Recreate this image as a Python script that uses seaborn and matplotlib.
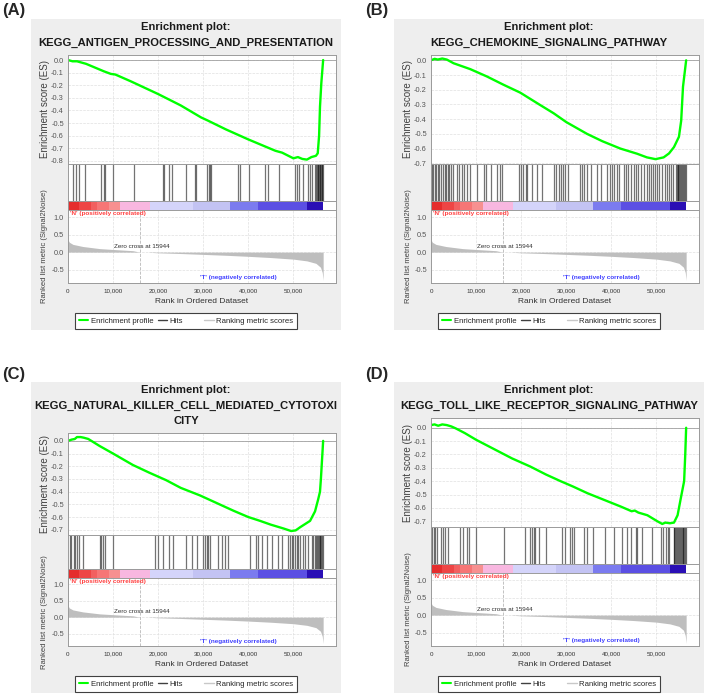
import matplotlib
matplotlib.use('Agg')
import matplotlib.pyplot as plt
import seaborn as sns
from matplotlib.lines import Line2D
from matplotlib.patches import Rectangle

sns.set_style('white')
plt.rcParams['font.family'] = ['Liberation Sans', 'DejaVu Sans']
plt.rcParams['axes.unicode_minus'] = False

FIG_W, FIG_H = 709, 696
X_MAX = 59450
ZERO_CROSS = 15944

# Ranked list metric (same ranked list in every panel)
metric_rank = [0, 300, 1100, 3300, 7000, 10000, 14400, 15944, 16000, 17800, 18000, 20000,
               25000, 30000, 35000, 40000, 45000, 50000, 53000, 55000, 56000, 56400, 56600]
metric_value = [0.35, 0.28, 0.22, 0.16, 0.10, 0.075, 0.04, 0.0, 0.0, 0.0, -0.005, -0.02,
                -0.04, -0.065, -0.09, -0.12, -0.155, -0.20, -0.25, -0.32, -0.43, -0.58, -0.80]

# Colour bar under the hits
cb_edges = [0, 2500, 5000, 6400, 9000, 11500, 18200, 27800, 36000, 42200, 53000, 56600]
cb_colors = ['#e52d2d', '#ee4545', '#f26060', '#f67676', '#f79090', '#f8b7e0',
             '#d4d4fa', '#c3c3f3', '#7b7bef', '#5b4fe3', '#2a0fb5']

x_ticks = [0, 10000, 20000, 30000, 40000, 50000]
x_tick_labels = ['0', '10,000', '20,000', '30,000', '40,000', '50,000']

# (A) antigen processing
es_rank_a = [0, 1000, 2000, 4000, 6000, 8000, 9500, 10500, 14000, 20000, 25000, 29500, 31000,
             35000, 40000, 44000, 46000, 47500, 50000, 51000, 52000, 53000, 54000, 55000,
             55400, 55700, 55900, 56200, 56600]
es_a = [0.0, -0.01, -0.01, -0.03, -0.06, -0.09, -0.11, -0.115, -0.17, -0.27, -0.36, -0.455, -0.48,
        -0.55, -0.63, -0.69, -0.72, -0.735, -0.78, -0.77, -0.785, -0.79, -0.77, -0.76,
        -0.74, -0.60, -0.37, -0.18, 0.0]
hits_a = [1100, 1700, 2400, 3800, 7400, 7900, 8200, 9900, 14700, 21000, 21300, 22500, 23000,
          26100, 28200, 28500, 30800, 31200, 31500, 31700, 37600, 38200, 40200, 43600, 44300,
          46800, 50300, 50700, 51300, 52100, 53300, 53700, 54100, 54900, 55050, 55200, 55350,
          55500, 55650, 55800, 55950, 56100, 56250, 56400, 56550]

# (B) chemokine signalling
es_rank_b = [0, 800, 1500, 2500, 3500, 5000, 8700, 12400, 16000, 19800, 24000, 27200, 30000,
             34600, 38000, 42000, 45700, 47900, 49800, 51600, 52800, 53900, 55000, 55500,
             55900, 56600]
es_b = [0.0, 0.01, 0.005, 0.012, 0.005, -0.02, -0.06, -0.11, -0.165, -0.22, -0.30, -0.36, -0.42,
        -0.50, -0.55, -0.60, -0.635, -0.66, -0.672, -0.66, -0.633, -0.59, -0.52, -0.41,
        -0.18, 0.0]
hits_b = [200, 500, 800, 1100, 1500, 1800, 2200, 2600, 3000, 3300, 3700, 4100, 4500, 4900,
          5700, 6300, 6800, 7400, 7900, 8600, 10200, 11700, 12300, 13200, 14700, 15200, 15800,
          19600, 20000, 20500, 21000, 21400, 22500, 23600, 24700, 27300, 27800, 28400, 28800,
          29300, 29800, 30300, 33000, 33500, 34000, 34700, 35400, 36900, 37600, 39100, 39600,
          40200, 40600, 41200, 41700, 42800, 43200, 43700, 44300, 45000, 45500, 46000, 46600,
          47300, 48000, 48400, 48900, 49300, 49800, 50200, 50600, 51300, 51800, 52300, 52800,
          53200, 53600, 54300, 54500, 54700, 54900, 55100, 55300, 55500, 55700, 55900, 56100,
          56300, 56500]

# (C) NK cell mediated cytotoxicity
es_rank_c = [0, 800, 1500, 2000, 2800, 3500, 4500, 7000, 10000, 14400, 18000, 21800, 25000,
             29300, 33000, 36700, 40000, 42600, 45000, 47800, 49500, 50500, 51500, 53700,
             54800, 55500, 55900, 56100, 56600]
es_c = [0.0, 0.01, 0.015, 0.03, 0.03, 0.025, 0.015, -0.04, -0.10, -0.19, -0.25, -0.31, -0.37,
        -0.43, -0.49, -0.55, -0.60, -0.63, -0.66, -0.69, -0.71, -0.705, -0.68, -0.63,
        -0.555, -0.46, -0.40, -0.30, 0.0]
hits_c = [370, 740, 1260, 1560, 2000, 2450, 3330, 7040, 7410, 7780, 8150, 10000, 19260, 20000,
          21110, 22440, 23330, 26080, 27410, 28520, 30000, 30370, 30740, 31110, 31480, 33330,
          34070, 34810, 35560, 40370, 41700, 42220, 42960, 44070, 45190, 46670, 47410, 48890,
          49260, 49630, 50000, 50370, 50740, 51110, 51480, 52220, 52590, 53330, 54070, 54440,
          54800, 55000, 55200, 55400, 55600, 55800, 56000, 56200, 56400, 56600]

# (D) toll-like receptor signalling
es_rank_d = [0, 800, 1600, 2500, 3500, 4500, 5500, 7500, 10000, 14000, 18000, 22000, 25500,
             28750, 31500, 34700, 38400, 42100, 44500, 45200, 46000, 48000, 50200, 51300,
             52000, 53000, 53900, 54700, 55400, 56150, 56400, 56600]
es_d = [0.02, 0.025, 0.015, 0.025, 0.02, 0.01, -0.005, -0.04, -0.09, -0.16, -0.23, -0.29, -0.35,
        -0.40, -0.44, -0.49, -0.54, -0.59, -0.625, -0.62, -0.635, -0.655, -0.70, -0.72,
        -0.71, -0.715, -0.71, -0.655, -0.53, -0.40, -0.20, 0.0]
hits_d = [230, 600, 970, 1330, 2220, 2670, 3180, 3700, 6520, 7110, 8000, 8370, 10070, 16150,
          20960, 22070, 22440, 22810, 23180, 23930, 25410, 29110, 29630, 30810, 31330, 31700,
          33930, 34670, 36000, 38520, 40590, 42440, 43410, 44440, 45410, 45630, 46890, 48960,
          50960, 51560, 52070, 52590, 52890, 53800, 54000, 54200, 54400, 54600, 54800, 55000,
          55200, 55400, 55600, 55800, 56000, 56200, 56400, 56600]

es_ticks_8 = [0.0, -0.1, -0.2, -0.3, -0.4, -0.5, -0.6, -0.7, -0.8]
es_ticks_7 = [0.0, -0.1, -0.2, -0.3, -0.4, -0.5, -0.6, -0.7]

panels = [
    ('(A)', 'Enrichment plot:\nKEGG_ANTIGEN_PROCESSING_AND_PRESENTATION',
     es_rank_a, es_a, hits_a, (-0.825, 0.04), es_ticks_8, 31, 19, 36),
    ('(B)', 'Enrichment plot:\nKEGG_CHEMOKINE_SIGNALING_PATHWAY',
     es_rank_b, es_b, hits_b, (-0.705, 0.036), es_ticks_7, 394, 19, 36),
    ('(C)', 'Enrichment plot:\nKEGG_NATURAL_KILLER_CELL_MEDIATED_CYTOTOXI\nCITY',
     es_rank_c, es_c, hits_c, (-0.74, 0.062), es_ticks_7, 31, 382, 51),
    ('(D)', 'Enrichment plot:\nKEGG_TOLL_LIKE_RECEPTOR_SIGNALING_PATHWAY',
     es_rank_d, es_d, hits_d, (-0.743, 0.073), es_ticks_7, 394, 382, 36),
]


def px_rect(x, y, w, h):
    return [x / FIG_W, 1 - (y + h) / FIG_H, w / FIG_W, h / FIG_H]


def fx(x):
    return x / FIG_W


def fy(y):
    return 1 - y / FIG_H


def style_frame(ax):
    for s in ax.spines.values():
        s.set_visible(True)
        s.set_color('#9a9a9a')
        s.set_linewidth(0.7)


fig = plt.figure(figsize=(FIG_W / 100, FIG_H / 100), dpi=100)

for label, title, es_x, es_y, hits, es_lim, es_ticks, x0, y0, top in panels:
    # panel background (behind the axes)
    fig.patches.append(Rectangle((fx(x0), fy(y0 + 311)), 310 / FIG_W, 311 / FIG_H,
                                 transform=fig.transFigure, facecolor='#eeeeee',
                                 edgecolor='none', zorder=-5))
    fig.text(fx(x0 - 29), fy(y0 - 8), label, fontsize=12, fontweight='bold',
             ha='left', va='center')
    for i, line in enumerate(title.split('\n')):
        fig.text(fx(x0 + 155), fy(y0 + 8 + 15.5 * i), line, fontsize=8.1,
                 fontweight='bold', ha='center', va='center', color='#1a1a1a')

    scale = (264 - top) / 228
    h_es, h_hits, h_cb, h_rank = 109 * scale, 37 * scale, 9 * scale, 73 * scale
    ax_left = x0 + 37
    y_es = y0 + top
    y_hits = y_es + h_es
    y_cb = y_hits + h_hits
    y_rank = y_cb + h_cb

    # enrichment score
    ax_es = fig.add_axes(px_rect(ax_left, y_es, 268, h_es))
    ax_es.grid(True, color='#e0e0e0', ls='--', lw=0.5)
    ax_es.axhline(0, color='#a0a0a0', lw=0.6)
    sns.lineplot(x=es_x, y=es_y, ax=ax_es, color='#00ff00', lw=1.7, sort=False, estimator=None)
    ax_es.set_xlim(0, X_MAX)
    ax_es.set_ylim(*es_lim)
    ax_es.set_xticks(x_ticks)
    ax_es.set_xticklabels([])
    ax_es.set_yticks(es_ticks)
    ax_es.set_yticklabels(['%.1f' % t for t in es_ticks])
    ax_es.tick_params(axis='x', length=0)
    ax_es.tick_params(axis='y', length=2, pad=1, labelsize=5.3, colors='#9a9a9a', labelcolor='#555555')
    style_frame(ax_es)
    fig.text(fx(x0 + 14), fy(y_es + h_es / 2), 'Enrichment score (ES)', rotation=90,
             fontsize=7, ha='center', va='center', color='#404040')

    # hits
    ax_hits = fig.add_axes(px_rect(ax_left, y_hits, 268, h_hits))
    ax_hits.vlines(hits, 0, 1, color='black', lw=0.9, alpha=0.55)
    ax_hits.set_xlim(0, X_MAX)
    ax_hits.set_ylim(0, 1)
    ax_hits.set_xticks([])
    ax_hits.set_yticks([])
    style_frame(ax_hits)

    # colour bar
    ax_cb = fig.add_axes(px_rect(ax_left, y_cb, 268, h_cb))
    for e0, e1, c in zip(cb_edges[:-1], cb_edges[1:], cb_colors):
        ax_cb.axvspan(e0, e1, color=c, lw=0)
    ax_cb.set_xlim(0, X_MAX)
    ax_cb.set_xticks([])
    ax_cb.set_yticks([])
    style_frame(ax_cb)

    # ranked list metric
    ax_rk = fig.add_axes(px_rect(ax_left, y_rank, 268, h_rank))
    ax_rk.grid(True, color='#e0e0e0', ls='--', lw=0.5)
    ax_rk.fill_between(metric_rank, 0, metric_value, color='#bebebe', lw=0)
    ax_rk.axvline(ZERO_CROSS, color='#b8b8b8', ls='--', lw=0.6)
    ax_rk.set_xlim(0, X_MAX)
    ax_rk.set_ylim(-0.88, 1.2)
    ax_rk.set_xticks(x_ticks)
    ax_rk.set_xticklabels(x_tick_labels)
    ax_rk.set_yticks([1.0, 0.5, 0.0, -0.5])
    ax_rk.set_yticklabels(['1.0', '0.5', '0.0', '-0.5'])
    ax_rk.tick_params(axis='x', length=2, pad=2, labelsize=4.5, colors='#9a9a9a', labelcolor='#333333')
    ax_rk.tick_params(axis='y', length=2, pad=1, labelsize=5.3, colors='#9a9a9a', labelcolor='#555555')
    ax_rk.set_xlabel('Rank in Ordered Dataset', fontsize=6, color='#333333', labelpad=3)
    style_frame(ax_rk)
    trans = ax_rk.get_xaxis_transform()
    ax_rk.text(400, 0.95, "'N' (positively correlated)", transform=trans, fontsize=4.6,
               fontweight='bold', color='#ff4040', ha='left', va='center')
    ax_rk.text(29300, 0.07, "'T' (negatively correlated)", transform=trans, fontsize=4.6,
               fontweight='bold', color='#4040ff', ha='left', va='center')
    ax_rk.text(10200, 0.17, 'Zero cross at 15944', fontsize=4.5, color='#303030',
               ha='left', va='center')
    fig.text(fx(x0 + 14), fy(y_rank + h_rank / 2), 'Ranked list metric (Signal2Noise)',
             rotation=90, fontsize=5.5, ha='center', va='center', color='#404040')

    # legend
    handles = [Line2D([], [], color='#00ff00', lw=1.5), Line2D([], [], color='#404040', lw=1),
               Line2D([], [], color='white', lw=1), Line2D([], [], color='#c8c8c8', lw=1)]
    names = ['Enrichment profile', 'Hits', '', 'Ranking metric scores']
    leg = fig.legend(handles, names, loc='center', bbox_to_anchor=(fx(x0 + 155), fy(y0 + 302)),
                     ncol=4, fontsize=5.6, frameon=True, fancybox=False, edgecolor='#404040',
                     framealpha=1, handlelength=1.2, handletextpad=0.3, columnspacing=0.6,
                     borderpad=0.55, borderaxespad=0)
    leg.get_frame().set_linewidth(0.8)

fig.savefig('out.png', dpi=100, facecolor='white')
